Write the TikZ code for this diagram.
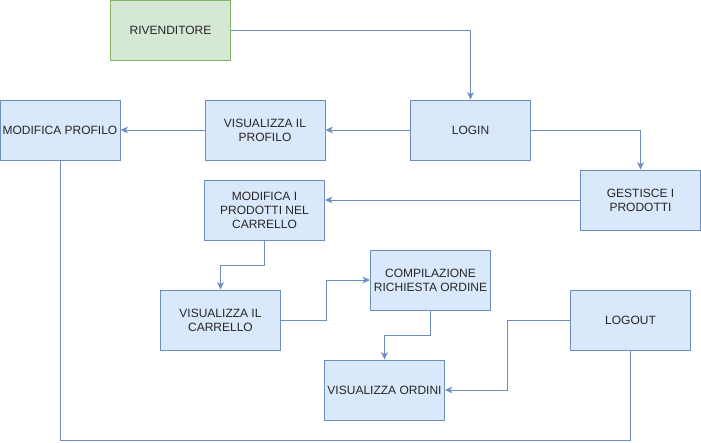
\documentclass[tikz,border=0pt]{standalone}
\usepackage{fontspec}
\setmainfont{Liberation Sans}
\usepackage{tikz}
\usetikzlibrary{arrows.meta,positioning}

\definecolor{boxfill}{HTML}{DAE8FC}
\definecolor{boxline}{HTML}{6C8EBF}
\definecolor{rolefill}{HTML}{D5E8D4}
\definecolor{roleline}{HTML}{82B366}

\begin{document}
\begin{tikzpicture}[
  x=0.75pt, y=-0.75pt,
  font=\fontsize{9}{10.5}\selectfont,
  box/.style={draw=boxline, fill=boxfill, line width=0.75pt, minimum width=90pt, minimum height=45pt, inner sep=0pt, align=center, text=black!85},
  rolebox/.style={box, draw=roleline, fill=rolefill},
  arr/.style={-{Stealth[length=5.5pt,width=5pt,inset=1.5pt]}, line width=0.75pt, boxline},
  plain/.style={line width=0.75pt, boxline},
]
\useasboundingbox (0,0) rectangle (701,443);

% ====== ACTOR ======
\node[rolebox] (riv) at (170.5, 30) {RIVENDITORE};

% ====== TOP ROW ======
\node[box] (login) at (470.5, 130) {LOGIN};
\node[box] (vprof) at (265, 130) {VISUALIZZA IL\\PROFILO};
\node[box] (modprof) at (60, 130) {MODIFICA PROFILO};

% ====== PRODUCTS / CART ======
\node[box] (gest) at (640.5, 200) {GESTISCE I\\PRODOTTI};
\node[box] (modprod) at (264.5, 210) {MODIFICA I\\PRODOTTI NEL\\CARRELLO};
\node[box] (vcarr) at (220.5, 320) {VISUALIZZA IL\\CARRELLO};
\node[box] (comp) at (430.5, 280) {COMPILAZIONE\\RICHIESTA ORDINE};
\node[box] (vord) at (384.5, 390) {VISUALIZZA ORDINI};
\node[box] (logout) at (630.5, 320) {LOGOUT};

% Arrows
\draw[arr] (riv.east) -| (login.north);
\draw[arr] (login.west) -- (vprof.east);
\draw[arr] (vprof.west) -- (modprof.east);
\draw[arr] (login.east) -| (gest.north);
\draw[arr] (gest.west) -- (gest.west -| modprod.east);
\draw[arr] (modprod.south) -- ++(0,25) -| (vcarr.north);
\draw[arr] (vcarr.east) -- ++(45,0) |- (comp.west);
\draw[arr] (comp.south) -- ++(0,25) -| (vord.north);
\draw[arr] (logout.west) -- ++(-63,0) |- (vord.east);

% Bottom return line
\draw[plain] (modprof.south) -- ++(0,280) -| (logout.south);

\end{tikzpicture}
\end{document}
